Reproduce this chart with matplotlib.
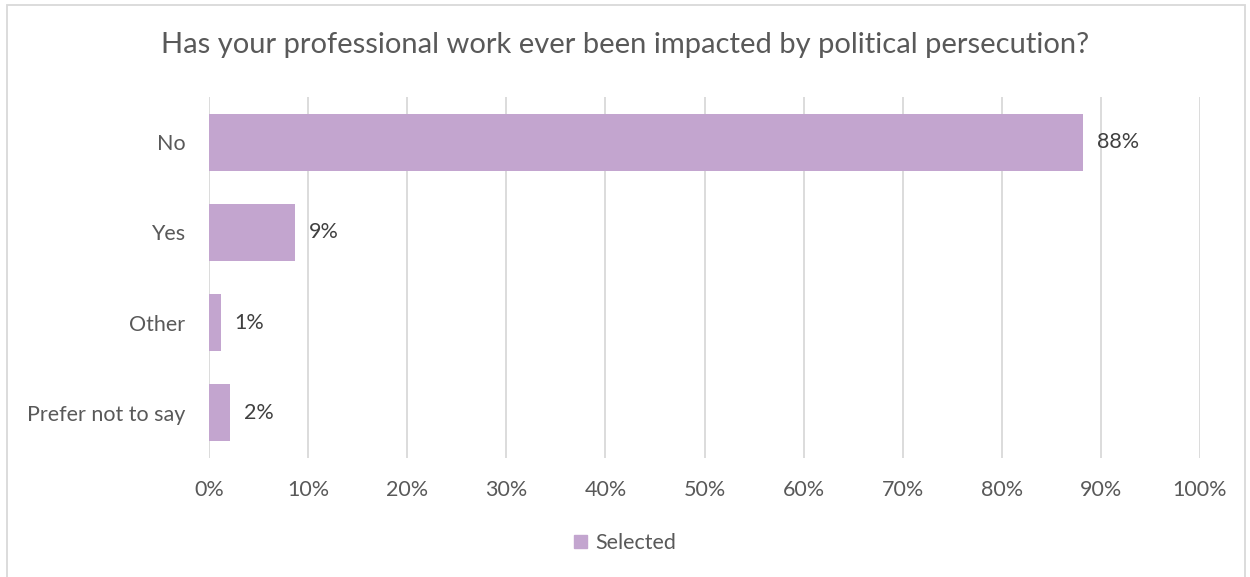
import matplotlib.pyplot as plt
from matplotlib.patches import Patch, Rectangle

# Survey responses (share of respondents)
categories = ["No", "Yes", "Other", "Prefer not to say"]
shares = [0.882, 0.087, 0.012, 0.021]
ticks = [i / 10 for i in range(11)]
tick_labels = [f"{t:.0%}" for t in ticks]

bar_color = "#C3A5CF"
text_color = "#595959"
grid_color = "#D9D9D9"

plt.rcParams["font.family"] = ["Lato", "DejaVu Sans"]

fig = plt.figure(figsize=(12.5, 5.77), dpi=100)
ax = fig.add_axes([209 / 1250, 1 - 458 / 577, 991 / 1250, 361 / 577])

y = list(range(len(categories)))
ax.barh(y, shares, height=0.63, color=bar_color, zorder=3)
for yi, v in zip(y, shares):
    ax.text(v + 0.014, yi, f"{v:.0%}", va="center", ha="left",
            fontsize=15.5, color="#404040")

ax.set_xlim(0, 1)
ax.set_ylim(len(categories) - 0.5, -0.5)
ax.set_xticks(ticks)
ax.set_xticklabels(tick_labels)
ax.set_yticks(y)
ax.set_yticklabels(categories)
ax.tick_params(axis="both", length=0, labelsize=15.5, colors=text_color)
ax.tick_params(axis="x", pad=16)
ax.tick_params(axis="y", pad=17)
ax.grid(axis="x", color=grid_color, linewidth=1.3, zorder=0)
for s in ax.spines.values():
    s.set_visible(False)

fig.text(0.5, 1 - 45 / 577, "Has your professional work ever been impacted by political persecution?",
         ha="center", va="center", fontsize=21, color=text_color)

ax.legend(handles=[Patch(color=bar_color, label="Selected")], loc="center",
          bbox_to_anchor=(0.5, 1 - 543 / 577), bbox_transform=fig.transFigure,
          frameon=False, fontsize=15.5, handlelength=0.6, handleheight=0.6,
          handletextpad=0.4, labelcolor=text_color)

# outer chart frame
fig.patches.append(Rectangle((7 / 1250, -0.01), 1238 / 1250, 1 - 5 / 577 + 0.01,
                             transform=fig.transFigure, fill=False,
                             edgecolor=grid_color, linewidth=1.3))

fig.savefig("out.png", dpi=100)
